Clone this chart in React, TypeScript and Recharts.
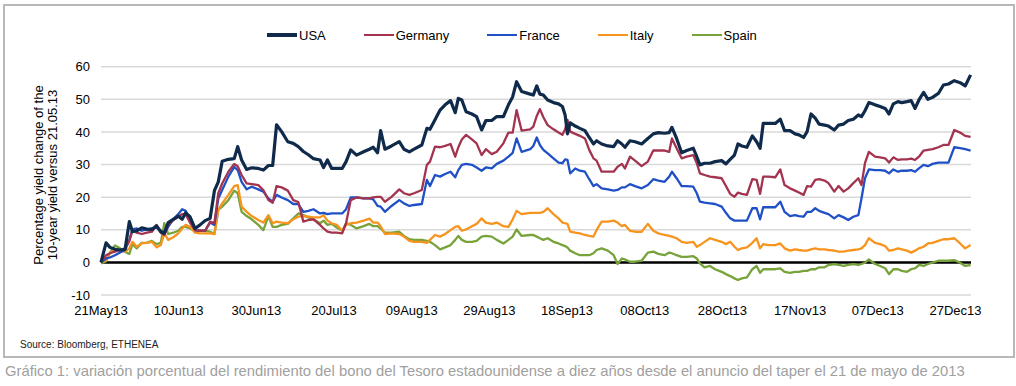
import React from 'react';
import { LineChart, Line, XAxis, YAxis, CartesianGrid, ReferenceLine, Legend } from 'recharts';

const FONT = '"Liberation Sans", Arial, Helvetica, sans-serif';

// calendar days since 21 May 2013
const days = [
  0, 1.3, 2.3, 3.6, 4.9, 6.2, 7.3, 8.1, 9.2, 10.5, 11.8, 13.1, 14.3, 15.4, 16.3, 17.3, 18.6, 19.9, 20.9, 21.8, 22.9, 24.2, 25.5, 26.8, 28.1, 29.2, 30.2, 31.2, 32.8, 34.3, 35.2, 36.2, 37.5, 38.8, 40.5, 41.8, 43.1, 44.2, 45.2, 46.5, 48.1, 49.5, 50.8, 52.1, 53.4, 54.7,
  56.4, 57.3, 58.3, 59.4, 60.7, 62.1, 63.1, 64.3, 65.8, 67.6, 69.1, 70.1, 71.2, 72.0, 73.1, 74.8, 76.8, 78.0, 79.4, 80.6, 82.6, 83.9, 84.7, 86.0, 87.3, 88.6, 90.0, 91.2, 92.0, 92.9, 94.0, 95.5, 96.7, 98.0, 99.1, 100.6, 101.9, 103.6, 104.9, 106.0, 107.0, 108.3, 110.5,
  111.3, 112.2, 113.0, 113.9, 115.0, 116.5, 117.8, 118.8, 119.5, 120.1, 120.8, 122.1, 123.3, 124.6, 125.7, 126.8, 127.6, 128.9, 130.5, 132.0, 133.0, 134.1, 134.9, 136.2, 137.5, 139.2, 140.8, 142.2, 143.5, 145.1, 146.3, 147.0, 148.2, 149.5, 150.8, 152.5, 153.4, 154.2, 155.4, 156.8, 158.1, 159.8, 160.9, 162.0, 163.1, 164.0, 165.0, 166.3,
  167.7, 168.8, 169.7, 170.5, 171.8, 173.6, 174.9, 176.0, 177.4, 178.7, 179.7, 180.9, 181.8, 182.8, 183.9, 184.9, 186.3, 187.3, 188.8, 189.9, 191.2, 192.4, 193.7, 195.0, 195.8, 196.7, 197.7, 199.3, 200.6, 201.9, 202.9, 204.0, 205.2, 206.2, 207.5, 208.6, 209.6, 210.6, 211.8, 212.9, 214.1, 215.6, 216.9, 218.2, 219.7, 221.2, 222.5, 223.9,
];

const usaValues = [
  0, 6.0, 4.6, 4.0, 3.8, 4.0, 12.5, 9.4, 9.7, 10.6, 10.2, 10.1, 11.2, 9.4, 8.9, 12.2, 13.2, 14.2, 13.2, 15.2, 14.0, 10.4, 11.5, 12.8, 13.5, 22.0, 24.7, 31.0, 31.6, 31.8, 35.5, 31.4, 28.5, 29.0, 28.8, 28.3, 29.7, 29.7, 42.2, 40.1, 37.0, 36.5, 35.5, 34.0, 33.0, 31.8,
  31.4, 29.1, 31.4, 28.8, 28.8, 28.8, 30.9, 34.5, 32.9, 33.9, 34.7, 35.3, 33.6, 40.4, 34.7, 35.7, 37.0, 34.7, 33.9, 34.7, 36.0, 41.1, 40.8, 43.7, 46.7, 48.3, 49.6, 45.9, 50.3, 49.8, 46.2, 45.5, 44.7, 40.6, 43.5, 43.5, 44.7, 44.7, 48.3, 50.8, 55.4, 52.4, 51.6,
  51.3, 54.1, 51.6, 51.3, 49.8, 49.0, 48.6, 47.8, 45.2, 39.4, 42.8, 41.8, 41.1, 40.4, 38.3, 36.3, 37.3, 36.3, 35.7, 35.5, 37.3, 36.3, 35.3, 37.3, 37.0, 36.3, 38.0, 39.4, 39.8, 39.6, 39.8, 41.4, 38.0, 33.6, 34.3, 35.0, 32.4, 29.9, 30.4, 30.4, 30.9, 31.2, 30.2, 31.6, 32.9, 36.3, 35.7, 35.3,
  38.8, 37.0, 35.0, 42.6, 42.6, 42.6, 43.9, 40.4, 40.4, 39.4, 39.1, 38.3, 40.1, 45.5, 44.2, 42.4, 42.1, 41.8, 40.6, 42.1, 42.4, 43.5, 43.9, 45.2, 44.7, 46.5, 49.0, 48.3, 47.8, 47.2, 45.5, 48.6, 49.3, 49.0, 49.3, 49.6, 47.2, 49.8, 52.1, 50.0, 50.6, 51.8, 54.4, 54.7, 55.7, 55.1, 54.1, 57.5,
];

const germanyValues = [
  0, 2.2, 2.8, 3.3, 3.8, 4.3, 6.5, 9.9, 9.1, 8.7, 9.1, 9.4, 11.5, 9.1, 8.4, 11.5, 13.0, 14.0, 14.8, 14.8, 12.2, 9.9, 9.7, 9.7, 12.5, 12.0, 21.2, 24.2, 27.8, 30.2, 29.5, 26.8, 24.2, 24.0, 23.7, 22.2, 19.1, 18.3, 23.4, 23.0, 22.0, 19.1, 18.5, 12.5, 13.0, 13.2,
  11.5, 10.4, 9.4, 9.1, 9.1, 8.9, 12.0, 19.1, 19.9, 19.6, 19.6, 19.9, 20.1, 20.1, 18.6, 20.1, 22.4, 21.2, 20.7, 21.2, 22.2, 29.9, 30.9, 35.5, 35.3, 35.7, 36.3, 32.4, 35.3, 37.7, 39.1, 37.7, 36.5, 32.9, 34.7, 33.2, 33.9, 36.5, 39.8, 39.8, 46.7, 40.4, 40.8,
  41.6, 44.9, 47.0, 44.5, 42.1, 40.8, 39.8, 39.1, 40.8, 43.7, 40.1, 39.4, 38.8, 38.0, 34.5, 31.9, 31.2, 27.8, 27.8, 27.8, 29.3, 30.2, 28.8, 32.4, 31.2, 29.5, 30.9, 34.3, 34.3, 34.3, 33.9, 38.0, 35.0, 31.9, 32.4, 32.9, 30.4, 27.3, 26.8, 26.3, 26.1, 25.8, 23.4, 21.0, 20.1, 21.4, 21.0, 20.7,
  25.5, 25.3, 21.0, 26.3, 26.3, 26.1, 28.5, 23.7, 22.7, 22.0, 21.4, 20.7, 23.4, 23.2, 25.3, 25.5, 25.1, 24.3, 21.7, 23.4, 21.7, 22.7, 24.3, 25.8, 23.7, 30.4, 33.9, 32.4, 32.2, 31.9, 30.6, 32.2, 31.4, 31.6, 31.6, 31.8, 31.4, 32.4, 34.3, 34.5, 34.7, 35.3, 36.0, 36.0, 40.6, 39.8, 38.8, 38.5,
];

const franceValues = [
  0, 1.2, 1.5, 2.2, 3.0, 3.8, 6.9, 10.1, 10.4, 9.7, 10.1, 10.4, 10.7, 9.7, 8.9, 10.9, 13.2, 14.8, 16.3, 15.8, 13.0, 9.9, 9.7, 9.7, 12.2, 11.5, 19.6, 22.2, 26.3, 29.3, 28.3, 24.7, 22.4, 23.2, 22.4, 21.7, 19.6, 18.6, 20.7, 19.9, 19.1, 17.9, 17.9, 15.5, 15.8, 16.3,
  15.0, 15.2, 14.8, 15.0, 15.0, 15.0, 16.3, 19.9, 19.9, 19.6, 19.6, 19.3, 17.3, 17.1, 15.5, 17.3, 19.1, 18.1, 17.3, 17.6, 17.9, 25.3, 23.4, 26.8, 26.3, 27.1, 27.8, 26.1, 28.3, 29.9, 30.2, 29.9, 29.1, 28.1, 29.1, 28.8, 30.2, 31.2, 32.4, 33.6, 38.0, 33.9, 34.7,
  35.7, 38.3, 36.0, 34.5, 33.4, 31.9, 30.6, 30.4, 31.6, 31.4, 27.3, 28.8, 28.1, 27.8, 25.5, 23.4, 24.0, 22.7, 22.4, 22.0, 22.2, 23.0, 23.0, 24.0, 23.4, 22.7, 23.7, 25.5, 25.1, 24.7, 26.3, 27.8, 25.8, 23.4, 23.4, 23.2, 21.2, 18.6, 18.3, 18.1, 17.9, 17.1, 15.2, 13.5, 12.8, 12.8, 12.8, 12.8,
  16.6, 16.6, 13.2, 16.9, 16.9, 16.9, 18.6, 15.5, 14.2, 14.5, 14.2, 14.0, 15.5, 15.5, 16.6, 15.8, 15.2, 14.8, 13.5, 14.5, 13.8, 13.0, 14.0, 14.5, 19.6, 25.8, 28.5, 28.3, 28.3, 28.1, 27.3, 28.5, 27.8, 28.1, 28.1, 28.3, 27.8, 28.8, 29.9, 29.5, 30.2, 30.6, 30.6, 30.6, 35.3, 35.0, 34.7, 34.3,
];

const italyValues = [
  0, 0.7, 2.8, 4.0, 3.6, 3.3, 4.3, 6.3, 4.8, 5.8, 6.0, 6.3, 4.6, 5.3, 8.9, 6.9, 7.7, 8.9, 10.4, 11.5, 10.9, 9.1, 8.9, 8.9, 8.9, 8.7, 16.1, 18.1, 20.7, 23.4, 23.7, 17.1, 15.5, 14.2, 13.0, 12.2, 14.5, 12.0, 12.5, 12.2, 12.0, 13.2, 14.0, 14.2, 14.0, 13.8,
  13.8, 14.5, 12.8, 12.0, 11.5, 9.7, 11.5, 12.0, 12.2, 12.8, 13.4, 12.2, 12.2, 11.1, 8.7, 8.9, 8.7, 7.9, 6.6, 6.3, 6.3, 6.0, 6.9, 8.4, 7.9, 8.7, 9.9, 10.9, 11.1, 9.7, 10.1, 11.1, 11.8, 13.5, 12.2, 11.8, 12.2, 11.1, 10.9, 13.2, 15.8, 14.8, 15.2,
  15.2, 15.2, 15.2, 15.5, 16.6, 14.8, 13.5, 12.2, 12.0, 11.8, 9.4, 9.1, 8.9, 8.4, 8.1, 7.9, 9.9, 12.5, 12.5, 12.8, 12.2, 11.1, 11.5, 9.7, 9.4, 9.4, 11.8, 9.7, 8.9, 8.4, 8.1, 7.9, 7.4, 6.3, 6.0, 6.3, 4.8, 5.3, 6.3, 7.4, 6.9, 6.3, 5.6, 6.3, 4.8, 3.8, 4.3, 4.6,
  6.0, 7.4, 4.3, 5.6, 5.3, 5.3, 5.8, 4.3, 3.6, 4.0, 3.8, 3.6, 3.6, 4.0, 4.3, 4.0, 4.0, 3.8, 3.6, 3.3, 3.3, 3.6, 3.8, 4.0, 4.3, 5.3, 7.4, 6.0, 5.6, 5.0, 3.6, 3.8, 4.3, 4.0, 3.6, 3.0, 3.6, 4.3, 4.8, 5.8, 6.0, 6.6, 7.1, 7.1, 7.4, 5.8, 4.3, 5.3,
];

const spainValues = [
  -0.3, 0.3, 3.0, 5.2, 4.3, 3.2, 2.6, 5.6, 4.3, 6.0, 6.0, 6.6, 5.6, 6.0, 12.0, 8.7, 9.1, 9.7, 10.9, 10.9, 10.4, 9.7, 9.7, 9.7, 9.4, 8.7, 16.1, 17.1, 19.1, 22.0, 21.2, 15.5, 14.2, 13.2, 11.5, 9.9, 14.2, 10.9, 10.9, 11.5, 11.8, 13.5, 15.0, 14.5, 13.8, 13.2,
  12.0, 12.8, 11.5, 11.8, 10.7, 9.7, 12.0, 11.5, 10.4, 11.1, 11.8, 11.1, 11.1, 10.4, 9.1, 9.1, 9.4, 8.1, 7.1, 6.9, 6.9, 6.6, 6.3, 5.3, 4.0, 4.6, 5.3, 6.9, 8.1, 6.9, 6.3, 6.3, 6.6, 7.9, 8.1, 7.9, 6.9, 5.8, 6.9, 7.9, 10.1, 8.1, 8.4,
  8.4, 7.9, 7.4, 6.9, 7.4, 6.3, 5.8, 5.3, 5.0, 4.6, 3.6, 2.8, 2.2, 2.2, 2.2, 2.8, 3.8, 4.3, 3.6, 2.2, -0.5, 1.2, 0.9, 0.2, 0.2, 0.5, 3.0, 3.3, 2.6, 2.2, 3.0, 2.8, 2.2, 1.7, 1.7, 1.9, 1.2, -0.3, -1.5, -1.1, -2.1, -2.9, -3.6, -4.2, -4.9, -5.4, -4.9, -4.6,
  -2.1, -1.1, -3.2, -2.1, -2.1, -2.1, -1.8, -2.9, -3.2, -2.9, -2.9, -2.6, -2.6, -2.1, -2.1, -1.5, -1.5, -0.8, -0.5, -0.8, -1.1, -0.8, -0.5, -0.8, -0.5, -0.1, 0.9, -0.5, -1.1, -1.8, -3.6, -2.1, -2.1, -2.6, -2.9, -2.1, -1.8, -0.8, -1.1, -0.5, -0.1, 0.5, 0.5, 0.5, 0.7, -0.1, -1.1, -0.8,
];

const tickDays = [0, 20, 40, 60, 80, 100, 120, 140, 160, 180, 200, 220];
const tickLabels = ['21May13', '10Jun13', '30Jun13', '20Jul13', '09Aug13', '29Aug13', '18Sep13', '08Oct13', '28Oct13', '17Nov13', '07Dec13', '27Dec13'];
const yTicks = [-10, 0, 10, 20, 30, 40, 50, 60];

const seriesNames = ['USA', 'Germany', 'France', 'Italy', 'Spain'];
const seriesKeys = ['usa', 'germany', 'france', 'italy', 'spain'];
const seriesColors = ['#0f2a4a', '#a3334f', '#1f50c6', '#f7941e', '#77a33a'];
const seriesWidths = [3.2, 2.3, 2.3, 2.3, 2.3];

const data = days.map((d, i) => ({
  day: d,
  usa: usaValues[i],
  germany: germanyValues[i],
  france: franceValues[i],
  italy: italyValues[i],
  spain: spainValues[i],
}));

const LegendContent = () => (
  <div style={{ display: 'flex', alignItems: 'center', paddingLeft: 267, height: 20, fontFamily: FONT, fontSize: 13, color: '#000' }}>
    {seriesNames.map((n, i) => (
      <div key={n} style={{ display: 'flex', alignItems: 'center', marginRight: 38 }}>
        <span style={{ display: 'inline-block', width: 30, height: i === 0 ? 3.5 : 2.5, background: seriesColors[i], marginRight: 2 }} />
        <span>{n}</span>
      </div>
    ))}
  </div>
);

const YLabel = () => (
  <text transform="rotate(-90)" textAnchor="middle" fontSize={13} fill="#000" fontFamily={FONT}>
    <tspan x={-175} y={42.5}>Percentage yield change of the</tspan>
    <tspan x={-175} y={57}>10-year yield versus 21.05.13</tspan>
  </text>
);

export default function App() {
  const drawOrder = [4, 3, 2, 1, 0];
  return (
    <div style={{ position: 'absolute', left: 0, top: 0, width: 1016, height: 386, background: '#fff', fontFamily: FONT, overflow: 'hidden' }}>
      <div style={{ position: 'absolute', left: 3, top: 4, width: 1012, height: 354, border: '2px solid #b8b8b8', boxSizing: 'border-box', zIndex: 3, pointerEvents: 'none' }} />
      <div style={{ position: 'absolute', left: 0, top: 0 }}>
        <LineChart width={1016} height={330} data={data} margin={{ top: 66.7, right: 45, bottom: 5, left: 41 }}>
          <CartesianGrid vertical={false} stroke="#d9d9d9" strokeWidth={1.5} />
          <XAxis
            dataKey="day"
            type="number"
            domain={[0, 224]}
            ticks={tickDays}
            interval={0}
            tickFormatter={(v: number) => tickLabels[tickDays.indexOf(v)] ?? ''}
            axisLine={false}
            tickLine={false}
            tickSize={0}
            tickMargin={11}
            height={30}
            tick={{ fontSize: 13, fill: '#000', fontFamily: FONT }}
          />
          <YAxis
            type="number"
            domain={[-10, 60]}
            ticks={yTicks}
            interval={0}
            axisLine={false}
            tickLine={false}
            tickSize={0}
            tickMargin={11}
            width={60}
            tick={{ fontSize: 13, fill: '#000', fontFamily: FONT }}
            label={<YLabel />}
          />
          <ReferenceLine y={0} stroke="#000" strokeWidth={2.5} />
          <Legend verticalAlign="middle" align="center" layout="horizontal" content={<LegendContent />} wrapperStyle={{ top: 25, left: 0, width: 1016, height: 20 }} />
          {drawOrder.map((i) => (
            <Line
              key={seriesKeys[i]}
              type="linear"
              dataKey={seriesKeys[i]}
              name={seriesNames[i]}
              stroke={seriesColors[i]}
              strokeWidth={seriesWidths[i]}
              dot={false}
              activeDot={false}
              isAnimationActive={false}
              strokeLinejoin="round"
            />
          ))}
        </LineChart>
      </div>
      <div style={{ position: 'absolute', left: 20, top: 339, fontSize: 10, color: '#222', whiteSpace: 'nowrap' }}>Source: Bloomberg, ETHENEA</div>
      <div style={{ position: 'absolute', left: 5, top: 363, fontSize: 14.8, color: '#a0a0a0', whiteSpace: 'nowrap' }}>
        Gráfico 1: variación porcentual del rendimiento del bono del Tesoro estadounidense a diez años desde el anuncio del taper el 21 de mayo de 2013
      </div>
    </div>
  );
}
